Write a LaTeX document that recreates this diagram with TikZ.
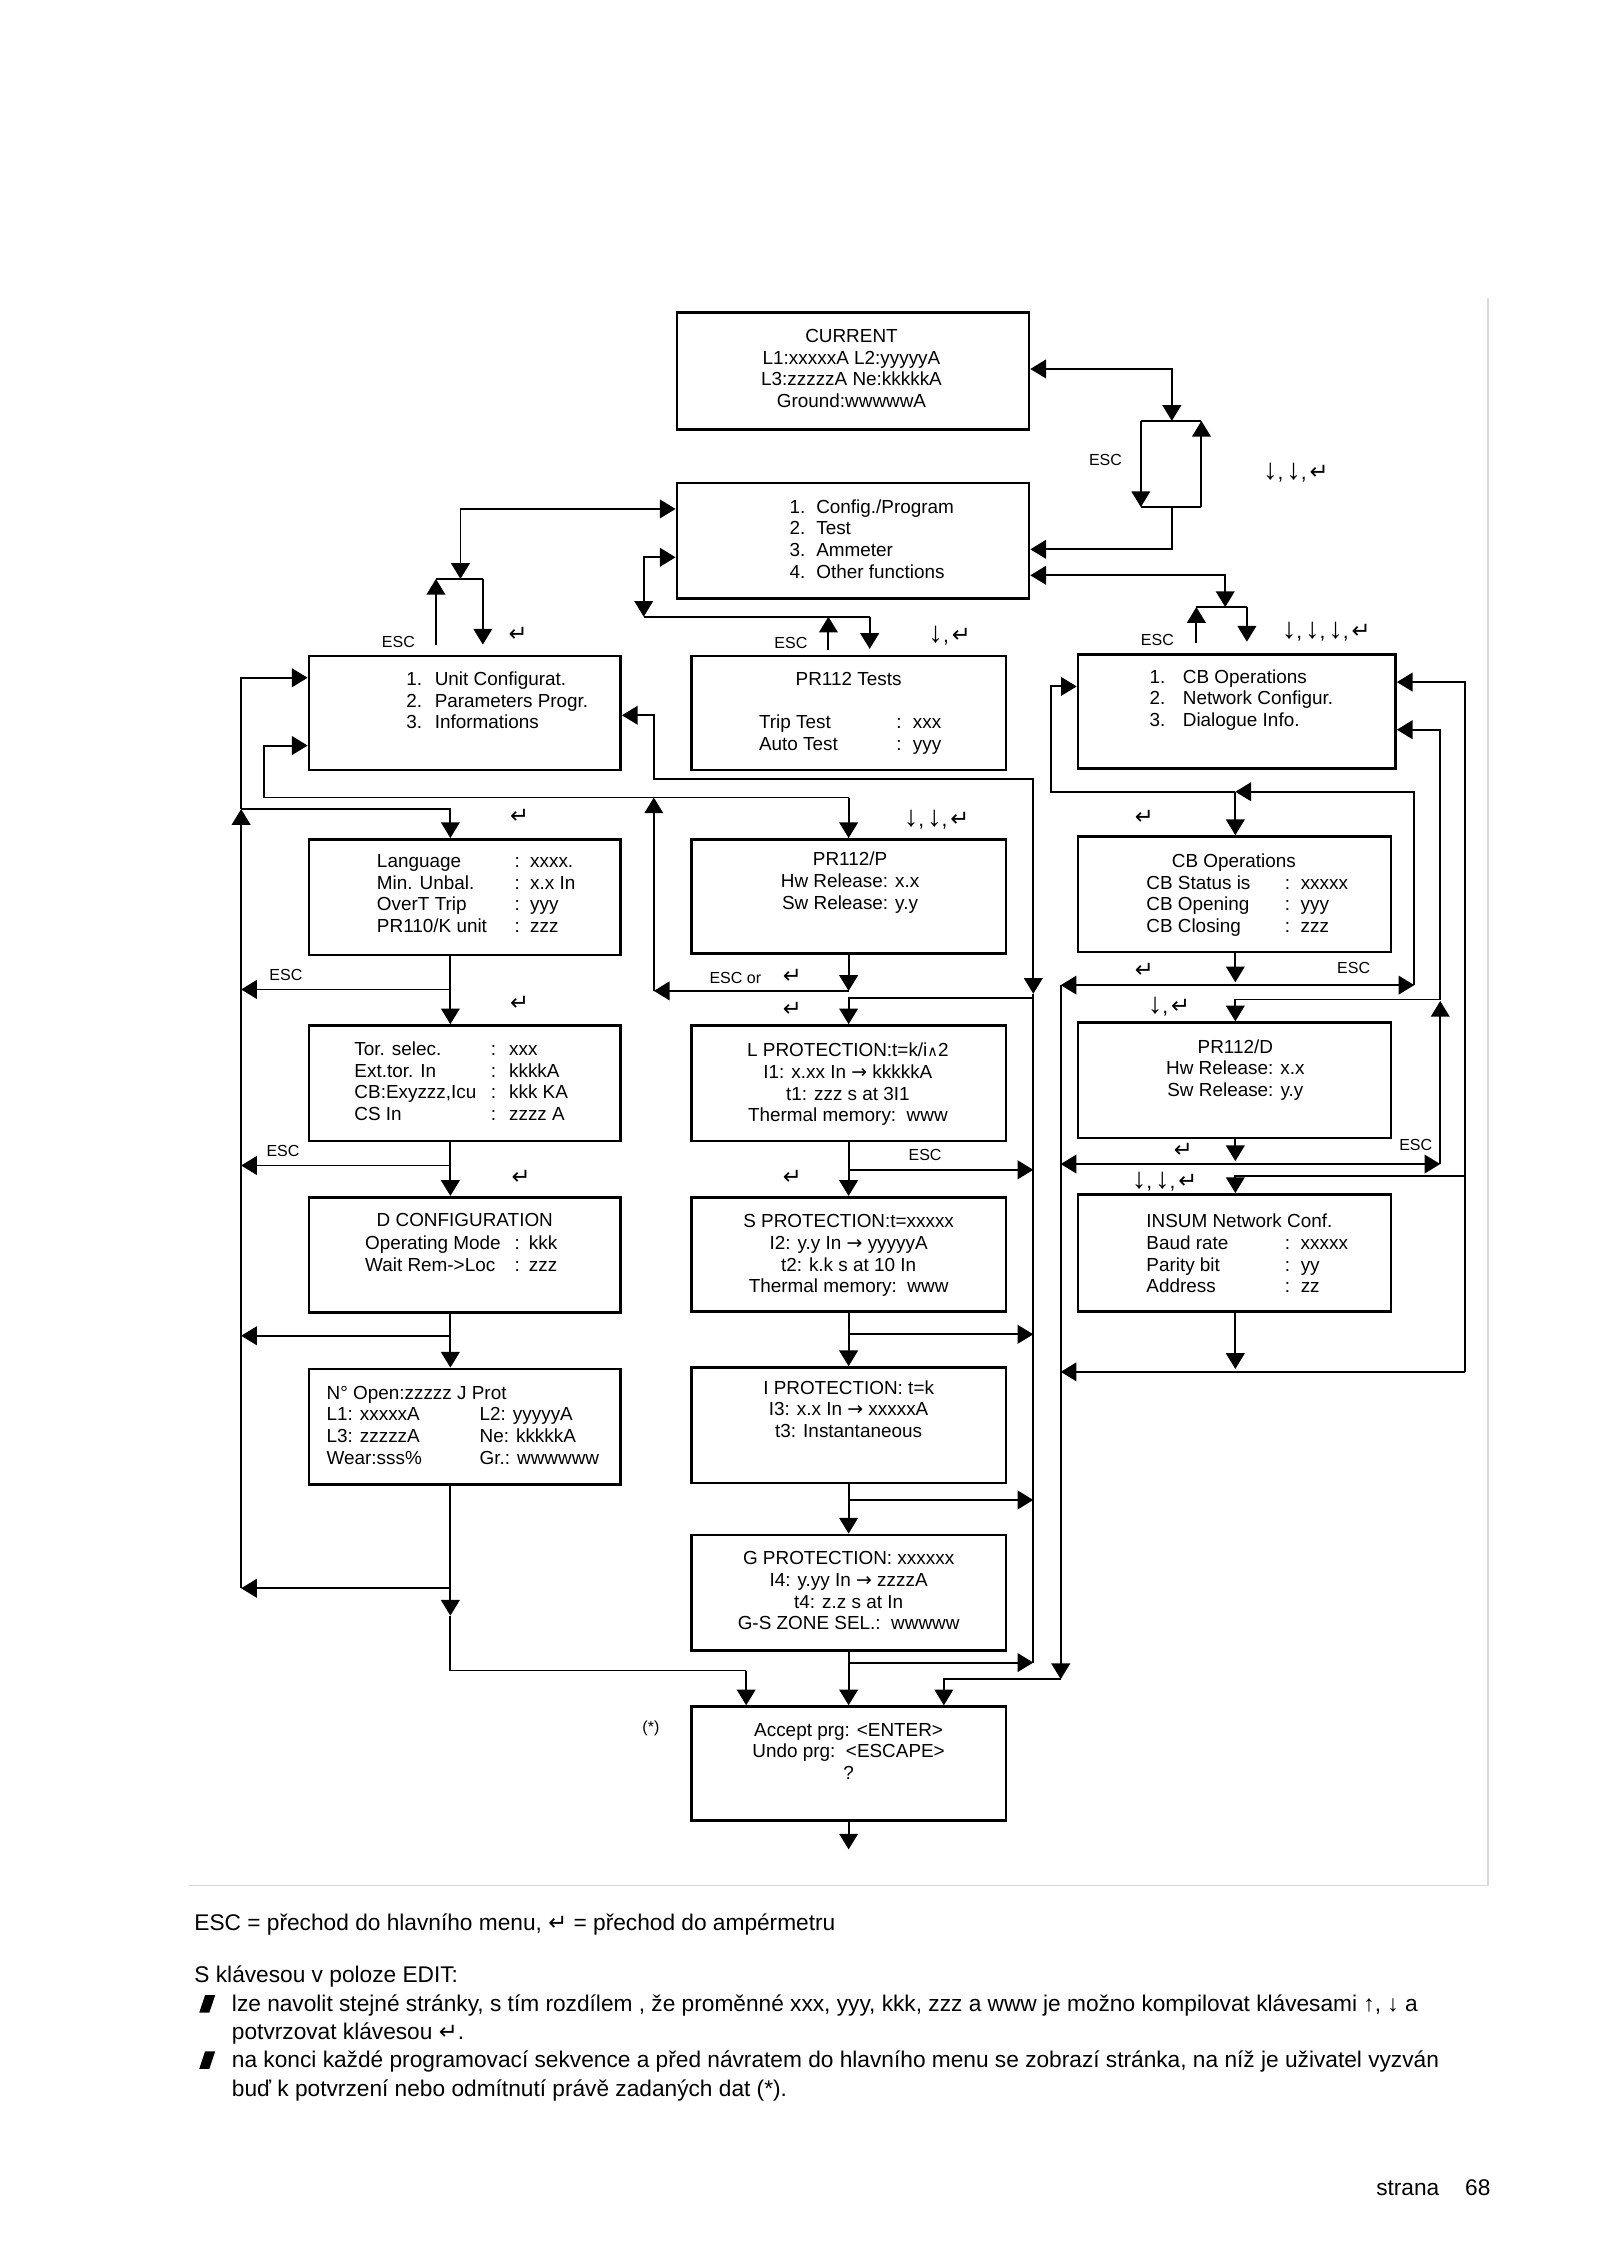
\documentclass[tikz,border=0pt]{standalone}
\usepackage{fontspec}
\setmainfont{Liberation Sans}
\newfontfamily\symf{DejaVu Sans}
\usetikzlibrary{arrows.meta,fit}
\newcommand{\dn}{{\fontsize{10}{10}\selectfont ↓}}
\newcommand{\rt}{{\symf\fontsize{7.8}{8}\selectfont ↵}}
\newcommand{\cm}{,\kern1pt}
\begin{document}
\begin{tikzpicture}[x=0.496pt, y=-0.496pt, line width=0.65pt,
  >={Triangle[length=5.4pt,width=6.4pt]},
  box/.style={draw, line width=0.9pt, inner sep=0pt},
  bt/.style={inner sep=0pt, font=\fontsize{6.5}{7.44}\selectfont},
  lbl/.style={inner sep=0pt, font=\fontsize{5.5}{6.6}\selectfont},
  sym/.style={inner sep=0pt, font=\fontsize{7.2}{8}\selectfont},
  txt/.style={inner sep=0pt, anchor=base west, font=\fontsize{7.8}{9.9}\selectfont}]
\useasboundingbox (-1.11,-1.71) rectangle (1107.8,1567.3);

% faint page frame
\draw[gray!30, line width=0.6pt] (1030,205) -- (1030,1305) -- (130,1305);

% ---------- boxes ----------
\node[box, fit={(468,215)(712,296)}] (cur) {};
\node[box, fit={(468,333)(712,413)}] (menu) {};
\node[box, fit={(213,453)(429,532)}] (unit) {};
\node[box, fit={(478,453)(696,532)}] (tests) {};
\node[box, fit={(746,452)(966,531)}] (other) {};
\node[box, fit={(213,580)(429,660)}] (lang) {};
\node[box, fit={(478,580)(696,659)}] (pr112p) {};
\node[box, fit={(746,578)(963,658)}] (cbops) {};
\node[box, fit={(213,709)(429,789)}] (tor) {};
\node[box, fit={(478,709)(696,789)}] (lprot) {};
\node[box, fit={(746,707)(963,787)}] (pr112d) {};
\node[box, fit={(213,828)(429,908)}] (dconf) {};
\node[box, fit={(478,828)(696,907)}] (sprot) {};
\node[box, fit={(746,826)(963,907)}] (insum) {};
\node[box, fit={(213,947)(429,1027)}] (nopen) {};
\node[box, fit={(478,946)(696,1026)}] (iprot) {};
\node[box, fit={(478,1062)(696,1142)}] (gprot) {};
\node[box, fit={(478,1181)(696,1260)}] (accept) {};

% ---------- box texts ----------
\node[bt] (tcur) at (589,255.3) {\begin{tabular}{@{}c@{}}CURRENT\\L1:xxxxxA L2:yyyyyA\\L3:zzzzzA Ne:kkkkkA\\Ground:wwwwwA\end{tabular}};
\node[bt, anchor=west] (tmenu) at (545.4,373.5) {\begin{tabular}{@{}p{9.2pt}@{}l@{}}1.&Config./Program\\2.&Test\\3.&Ammeter\\4.&Other functions\end{tabular}};
\node[bt, anchor=west] (tunit) at (279.8,485.5) {\begin{tabular}{@{}p{9.8pt}@{}l@{}}1.&Unit Configurat.\\2.&Parameters Progr.\\3.&Informations\end{tabular}};
\node[bt] (ttests1) at (587,470.5) {\begin{tabular}{@{}c@{}}PR112 Tests\end{tabular}};
\node[bt, anchor=west] (ttests2) at (524.3,507.9) {\begin{tabular}{@{}p{47.2pt}@{}p{5.65pt}@{}l@{}}Trip Test&:&xxx\\Auto Test&:&yyy\end{tabular}};
\node[bt, anchor=west] (tother) at (795,483.8) {\begin{tabular}{@{}p{11.4pt}@{}l@{}}1.&CB Operations\\2.&Network Configur.\\3.&Dialogue Info.\end{tabular}};
\node[bt, anchor=west] (tlang) at (259.5,619.1) {\begin{tabular}{@{}p{47.3pt}@{}p{5.36pt}@{}l@{}}Language&:&xxxx.\\Min. Unbal.&:&x.x In\\OverT Trip&:&yyy\\PR110/K unit&:&zzz\end{tabular}};
\node[bt] (tpr112p) at (588,610.3) {\begin{tabular}{@{}c@{}}PR112/P\\Hw Release: x.x\\Sw Release: y.y\end{tabular}};
\node[bt] (tcbops1) at (854,596.2) {\begin{tabular}{@{}c@{}}CB Operations\end{tabular}};
\node[bt, anchor=west] (tcbops2) at (792.7,626.4) {\begin{tabular}{@{}p{47.6pt}@{}p{5.46pt}@{}l@{}}CB Status is&:&xxxxx\\CB Opening&:&yyy\\CB Closing&:&zzz\end{tabular}};
\node[bt, anchor=west] (ttor) at (243.9,749.2) {\begin{tabular}{@{}p{46.9pt}@{}p{6.25pt}@{}l@{}}Tor. selec.&:&xxx\\Ext.tor. In&:&kkkkA\\CB:Exyzzz,Icu&:&kkk KA\\CS In&:&zzzz A\end{tabular}};
\node[bt] (tlprot) at (586.5,750.2) {\begin{tabular}{@{}c@{}}L PROTECTION:t=k/i{\symf\fontsize{5}{6}\selectfont ∧}2\\I1: x.xx In {\symf →} kkkkkA\\t1: zzz s at 3I1\\Thermal memory:\ \ www\end{tabular}};
\node[bt] (tpr112d) at (855,740.1) {\begin{tabular}{@{}c@{}}PR112/D\\Hw Release: x.x\\Sw Release: y.y\end{tabular}};
\node[bt] (tdconf1) at (321,845.2) {\begin{tabular}{@{}c@{}}D CONFIGURATION\end{tabular}};
\node[bt, anchor=west] (tdconf2) at (251.3,868.7) {\begin{tabular}{@{}p{51.4pt}@{}p{4.9pt}@{}l@{}}Operating Mode&:&kkk\\Wait Rem->Loc&:&zzz\end{tabular}};
\node[bt] (tsprot) at (587,868.8) {\begin{tabular}{@{}c@{}}S PROTECTION:t=xxxxx\\I2: y.y In {\symf →} yyyyyA\\t2: k.k s at 10 In\\Thermal memory:\ \ www\end{tabular}};
\node[bt, anchor=west] (tinsum) at (792.7,868.7) {\begin{tabular}{@{}p{47.6pt}@{}p{5.46pt}@{}l@{}}\multicolumn{3}{@{}l@{}}{INSUM Network Conf.}\\Baud rate&:&xxxxx\\Parity bit&:&yy\\Address&:&zz\end{tabular}};
\node[bt, anchor=west] (tnopen) at (224.6,987.4) {\begin{tabular}{@{}p{52.6pt}@{}l@{}}\multicolumn{2}{@{}l@{}}{N° Open:zzzzz J Prot}\\L1: xxxxxA&L2: yyyyyA\\L3: zzzzzA&Ne: kkkkkA\\Wear:sss\%&Gr.: wwwwww\end{tabular}};
\node[bt] (tiprot) at (587,976.5) {\begin{tabular}{@{}c@{}}I PROTECTION: t=k\\I3: x.x In {\symf →} xxxxxA\\t3: Instantaneous\end{tabular}};
\node[bt] (tgprot) at (587,1102.2) {\begin{tabular}{@{}c@{}}G PROTECTION: xxxxxx\\I4: y.yy In {\symf →} zzzzA\\t4: z.z s at In\\G-S ZONE SEL.:\ \ wwwww\end{tabular}};
\node[bt] (taccept) at (587,1213.5) {\begin{tabular}{@{}c@{}}Accept prg: <ENTER>\\Undo prg:\ \ <ESCAPE>\\?\end{tabular}};

% ---------- connectors: top ----------
\draw[<->] (cur.east |- 0,254) -- (811,254) -- (811,290);
\draw (789.5,290) -- (831.5,290);
\draw (789.5,349.7) -- (831.5,349.7);
\draw[->] (789.5,290) -- (789.5,349.7);
\draw[->] (831.5,349.7) -- (831.5,290);
\draw[->] (811,349.7) -- (811,379) -- (menu.east |- 0,379);

\draw[<->] (menu.east |- 0,397) -- (848,397) -- (848,419);
\draw (828,419) -- (863,419);
\draw[<-] (828,419) -- (828,444);
\draw[->] (863,419) -- (863,443);

\draw[<->] (318,399.5) -- (318,351) -- (menu.west |- 0,351);
\draw (301,399.5) -- (333.5,399.5);
\draw[<-] (301,399.5) -- (301,445);
\draw[->] (333.5,399.5) -- (333.5,445);

\draw[<->] (445,425.7) -- (445,384.5) -- (menu.west |- 0,384.5);
\draw (445,425.7) -- (601.6,425.7);
\draw[<-] (573,425.7) -- (573,449);
\draw[->] (601.6,425.7) -- (601.6,448);

% ---------- unit menu links ----------
\draw[<->] (unit.east |- 0,494) -- (452,494) -- (452,538) -- (715,538) -- (715,687);
\draw (715,687) -- (715,1150.5);
\draw[->] (715,690) -- (587,690) -- (lprot.north);

\draw[->] (166,1099) -- (166,559);
\draw[->] (166,559) -- (166,468) -- (unit.west |- 0,468);
\draw[->] (166,559) -- (311,559) -- (lang.north -| 311,0);

\draw (182,551) -- (587,551);
\draw[->] (182,551) -- (182,515) -- (unit.west |- 0,515);
\draw[->] (587,551) -- (pr112p.north);
\draw[->] (pr112p.south) -- (587,685);
\draw[->] (587,685) -- (452,685);
\draw[->] (452,685) -- (452,551);

% ---------- left column ----------
\draw[->] (lang.south -| 311,0) -- (tor.north -| 311,0);
\draw[->] (311,684) -- (166,684);
\draw[->] (tor.south -| 311,0) -- (dconf.north -| 311,0);
\draw[->] (311,806) -- (166,806);
\draw[->] (dconf.south -| 311,0) -- (nopen.north -| 311,0);
\draw[->] (311,924) -- (166,924);
\draw[->] (nopen.south -| 311,0) -- (311,1118);
\draw (311,1118) -- (311,1156) -- (516,1156);
\draw[->] (516,1156) -- (accept.north -| 516,0);
\draw[->] (311,1099) -- (166,1099);

% ---------- middle column ----------
\draw[->] (lprot.south) -- (sprot.north);
\draw[->] (587,809) -- (715,809);
\draw[->] (sprot.south) -- (iprot.north);
\draw[->] (587,923) -- (715,923);
\draw[->] (iprot.south) -- (gprot.north);
\draw[->] (587,1037.8) -- (715,1037.8);
\draw[->] (gprot.south) -- (accept.north);
\draw[->] (587,1150.5) -- (715,1150.5);
\draw[->] (accept.south) -- (587,1280);

% ---------- right column ----------
\draw[<->] (734,681) -- (979,681);
\draw[->] (979,681) -- (979,547) -- (855,547);
\draw[->] (855,547) -- (727,547) -- (727,474) -- (other.west |- 0,474);
\draw[->] (855,547) -- (cbops.north -| 855,0);
\draw[->] (cbops.south -| 855,0) -- (855,679);
\draw[<->] (734,805) -- (997,805);
\draw[->] (997,805) -- (997,692);
\draw[->] (997,691) -- (997,504) -- (other.east |- 0,504);
\draw[->] (997,691) -- (855,691) -- (pr112d.north -| 855,0);
\draw[->] (pr112d.south -| 855,0) -- (855,803);
\draw[->] (1014,949) -- (1014,471) -- (other.east |- 0,471);
\draw[->] (1014,949) -- (734,949);
\draw[->] (1014,813) -- (855,813) -- (insum.north -| 855,0);
\draw[->] (insum.south -| 855,0) -- (855,947);
\draw[->] (734,681) -- (734,1162);
\draw[->] (734,1162) -- (653,1162) -- (accept.north -| 653,0);

% ---------- connector labels ----------
\node[lbl] (l1) at (765,316.8) {ESC};
\node[sym] (l2) at (897,326) {\dn\cm\dn\cm\rt};
\node[lbl] (l3) at (275,443) {ESC};
\node[sym] (l4) at (358,438) {\rt};
\node[lbl] (l5) at (547,444) {ESC};
\node[sym] (l6) at (657,439) {\dn\cm\rt};
\node[lbl] (l7) at (801,442) {ESC};
\node[sym] (l8) at (918,436) {\dn\cm\dn\cm\dn\cm\rt};
\node[sym] (l9) at (359,564) {\rt};
\node[sym] (l10) at (359,694) {\rt};
\node[sym] (l11) at (360,814) {\rt};
\node[lbl] (l12) at (197,674) {ESC};
\node[lbl] (l13) at (195,796) {ESC};
\node[sym] (l14) at (648,566) {\dn\cm\dn\cm\rt};
\node[lbl] (l15) at (508.5,676) {ESC or};
\node[sym] (l16) at (548,675) {\rt};
\node[sym] (l17) at (548,698) {\rt};
\node[lbl] (l18) at (640,799) {ESC};
\node[sym] (l19) at (548,814) {\rt};
\node[sym] (l20) at (792,565) {\rt};
\node[sym] (l21) at (792,671) {\rt};
\node[lbl] (l22) at (937,669) {ESC};
\node[sym] (l23) at (809,696) {\dn\cm\rt};
\node[sym] (l24) at (819,795.5) {\rt};
\node[lbl] (l25) at (980,791.5) {ESC};
\node[sym] (l26) at (806,817.5) {\dn\cm\dn\cm\rt};
\node[lbl] (l27) at (450,1196) {(*)};

% ---------- notes below ----------
\node[txt] (n1) at (133,1336) {ESC = přechod do hlavního menu, {\symf ↵} = přechod do ampérmetru};
\node[txt] (n2) at (133,1372) {S klávesou v poloze EDIT:};
\fill (137,1393) -- (141,1381) -- (148,1381) -- (144,1393) -- cycle;
\node[txt] (n3) at (159,1392.5) {lze navolit stejné stránky, s tím rozdílem , že proměnné xxx, yyy, kkk, zzz a www je možno kompilovat klávesami ↑, ↓ a};
\node[txt] (n4) at (159,1411.5) {potvrzovat klávesou {\symf ↵}.};
\fill (137,1432) -- (141,1420) -- (148,1420) -- (144,1432) -- cycle;
\node[txt] (n5) at (159,1431) {na konci každé programovací sekvence a před návratem do hlavního menu se zobrazí stránka, na níž je uživatel vyzván};
\node[txt] (n6) at (159,1451) {buď k potvrzení nebo odmítnutí právě zadaných dat (*).};
\node[txt] (pg) at (952,1520) {strana\hspace{8.9pt}68};
\end{tikzpicture}
\end{document}
